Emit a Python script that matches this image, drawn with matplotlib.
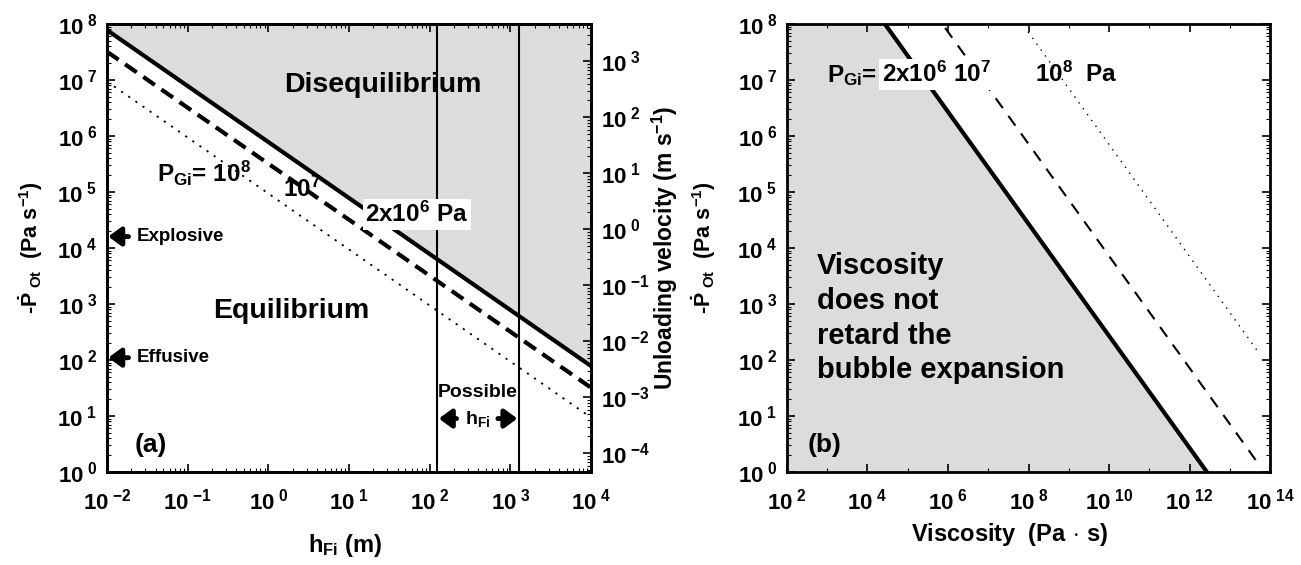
import numpy as np
import matplotlib
matplotlib.use('Agg')
import matplotlib.pyplot as plt
from matplotlib.ticker import FuncFormatter, LogLocator, NullFormatter

plt.rcParams['font.family'] = ['Liberation Sans', 'DejaVu Sans']
plt.rcParams['font.weight'] = 'bold'
plt.rcParams['axes.labelweight'] = 'bold'
plt.rcParams['mathtext.fontset'] = 'custom'
plt.rcParams['mathtext.rm'] = 'Liberation Sans:bold'
plt.rcParams['mathtext.bf'] = 'Liberation Sans:bold'
plt.rcParams['mathtext.it'] = 'Liberation Sans:bold:italic'

# (a) decompression rate vs initial fragmentation depth
h_fi = [1e-2, 1e4]
p_2e6 = [7.8e7, 7.8e1]
p_1e7 = [3.2e7, 3.2e1]
p_1e8 = [9.4e6, 9.4e0]
possible_h = [125, 1270]
explosive_rate = 1.6e4
effusive_rate = 1.1e2
rho_g = 2.16e4  # Pa/s -> m/s

# (b) decompression rate vs viscosity
eta_2e6 = [2.7e4, 2.7e12]
pv_2e6 = [1e8, 1e0]
eta_1e7 = [8.5e5, 4.8e13]
pv_1e7 = [8.5e7, 1.5e0]
eta_1e8 = [9.8e7, 5.6e13]
pv_1e8 = [7.2e7, 1.26e2]

gray = '#dcdcdc'
ylab = r'-$\mathbf{\dot{P}}_{\ \mathbf{Ot}}$  (Pa s$^{\mathbf{-1}}$)'


def pow10(v, pos):
    e = int(round(np.log10(v)))
    return r'$\mathbf{10}^{\ \mathbf{%d}}$' % e


def style(ax, right=True):
    ax.tick_params(which='both', direction='in', top=True, right=right, labelsize=16)
    ax.tick_params(axis='x', pad=12)
    ax.tick_params(axis='y', pad=7)
    ax.tick_params(which='major', length=6, width=1.2)
    ax.tick_params(which='minor', length=3, width=0.8)
    for s in ax.spines.values():
        s.set_linewidth(2)
    ax.yaxis.set_major_formatter(FuncFormatter(pow10))
    ax.xaxis.set_major_formatter(FuncFormatter(pow10))


fig = plt.figure(figsize=(13.01, 5.65), dpi=100)
arrow = dict(arrowstyle='-|>,head_width=0.55,head_length=0.75', lw=3.5, color='k',
             shrinkA=0, shrinkB=0)

# ---- panel (a)
ax1 = fig.add_axes([0.0822, 0.1646, 0.3721, 0.793])
ax1.set_xscale('log')
ax1.set_yscale('log')
ax1.set_xlim(1e-2, 1e4)
ax1.set_ylim(1e0, 1e8)
ax1.fill_between(h_fi, p_2e6, 1e8, color=gray, lw=0, zorder=0)
ax1.plot(h_fi, p_2e6, color='k', lw=3)
ax1.plot(h_fi, p_1e7, color='k', lw=3, dashes=(3.4, 1.9))
ax1.plot(h_fi, p_1e8, color='k', lw=1.3, dashes=(1.2, 3.6))
for h in possible_h:
    ax1.axvline(h, color='k', lw=1.5)
ax1.xaxis.set_major_locator(LogLocator(base=10, numticks=20))
ax1.xaxis.set_minor_locator(LogLocator(base=10, subs=np.arange(2, 10), numticks=50))
ax1.yaxis.set_major_locator(LogLocator(base=10, numticks=20))
ax1.yaxis.set_minor_locator(LogLocator(base=10, subs=np.arange(2, 10), numticks=50))
ax1.xaxis.set_minor_formatter(NullFormatter())
ax1.yaxis.set_minor_formatter(NullFormatter())
style(ax1, right=False)
ax1.set_xlabel(r'h$_{\mathbf{Fi}}$ (m)', fontsize=17)
ax1.xaxis.set_label_coords(0.492, -0.135)
ax1.set_ylabel(ylab, fontsize=15.5, labelpad=9)

ax1.text(26, 8e6, 'Disequilibrium', fontsize=20.5, ha='center', va='center')
ax1.text(1.9, 750, 'Equilibrium', fontsize=20.5, ha='center', va='center')
ax1.text(0.042, 1.5e5, r'P$_{\mathbf{Gi}}$= 10$^{\mathbf{8}}$', fontsize=17.5, va='baseline')
ax1.text(1.5, 8.1e4, r'10$^{\mathbf{7}}$', fontsize=17.5, va='baseline')
ax1.text(16, 2.9e4, r'2x10$^{\mathbf{6}}$ Pa', fontsize=17.5, va='baseline',
         bbox=dict(facecolor='white', edgecolor='none', pad=2))
ax1.annotate('', xy=(0.0104, explosive_rate), xytext=(0.0185, explosive_rate), arrowprops=arrow)
ax1.text(0.0235, explosive_rate, 'Explosive', fontsize=13.5, va='center')
ax1.annotate('', xy=(0.0104, effusive_rate), xytext=(0.0185, effusive_rate), arrowprops=arrow)
ax1.text(0.0235, effusive_rate, 'Effusive', fontsize=13.5, va='center')
ax1.text(np.sqrt(possible_h[0] * possible_h[1]), 26, 'Possible', fontsize=14,
         ha='center', va='center')
ax1.annotate('', xy=(possible_h[0] * 1.04, 9), xytext=(215, 9), arrowprops=arrow)
ax1.annotate('', xy=(possible_h[1] / 1.04, 9), xytext=(700, 9), arrowprops=arrow)
ax1.text(390, 9, r'h$_{\mathbf{Fi}}$', fontsize=14, ha='center', va='center')
ax1.text(0.058, 0.06, '(a)', transform=ax1.transAxes, fontsize=19, va='center')

# velocity axis
ax1b = ax1.twinx()
ax1b.set_yscale('log')
ax1b.set_ylim(1e0 / rho_g, 1e8 / rho_g)
ax1b.yaxis.set_major_locator(LogLocator(base=10, numticks=20))
ax1b.yaxis.set_minor_locator(LogLocator(base=10, subs=np.arange(2, 10), numticks=50))
ax1b.yaxis.set_minor_formatter(NullFormatter())
ax1b.yaxis.set_major_formatter(FuncFormatter(pow10))
ax1b.tick_params(axis='x', which='both', bottom=False, top=False,
                 labelbottom=False, labeltop=False)
ax1b.tick_params(axis='y', which='both', direction='in', labelsize=16, pad=7)
ax1b.tick_params(axis='y', which='major', length=6, width=1.2)
ax1b.tick_params(axis='y', which='minor', length=3, width=0.8)
for s in ax1b.spines.values():
    s.set_linewidth(2)
ax1b.set_ylabel(r'Unloading velocity (m s$^{\mathbf{-1}}$)', fontsize=16.5, labelpad=0)

# ---- panel (b)
ax2 = fig.add_axes([0.6049, 0.1646, 0.3713, 0.793])
ax2.set_xscale('log')
ax2.set_yscale('log')
ax2.set_xlim(1e2, 1e14)
ax2.set_ylim(1e0, 1e8)
ax2.fill_between([1e2] + eta_2e6, 1e0, [pv_2e6[0]] + pv_2e6, color=gray, lw=0, zorder=0)
ax2.plot(eta_2e6, pv_2e6, color='k', lw=3)
ax2.plot(eta_1e7, pv_1e7, color='k', lw=1.5, dashes=(5.8, 4.6))
ax2.plot(eta_1e8, pv_1e8, color='k', lw=1, dashes=(1, 4.2))
ax2.xaxis.set_major_locator(LogLocator(base=100, numticks=20))
ax2.xaxis.set_minor_locator(LogLocator(base=10, subs=[], numticks=50))
ax2.yaxis.set_major_locator(LogLocator(base=10, numticks=20))
ax2.yaxis.set_minor_locator(LogLocator(base=10, subs=np.arange(2, 10), numticks=50))
ax2.xaxis.set_minor_formatter(NullFormatter())
ax2.yaxis.set_minor_formatter(NullFormatter())
style(ax2)
ax2.set_xlabel(r'Viscosity  (Pa$\,\cdot\,$s)', fontsize=17)
ax2.xaxis.set_label_coords(0.462, -0.11)
ax2.set_ylabel(ylab, fontsize=15.5, labelpad=14)

ax2.text(9.8e2, 9.2e6, r'P$_{\mathbf{Gi}}$=', fontsize=17.5, va='baseline')
ax2.text(2.3e4, 9.2e6, r'2x10$^{\mathbf{6}}$ 10$^{\mathbf{7}}$', fontsize=17.5, va='baseline',
         bbox=dict(facecolor='white', edgecolor='none', pad=2))
ax2.text(1.45e8, 9.2e6, r'10$^{\mathbf{8}}$  Pa', fontsize=17.5, va='baseline')
ax2.text(0.062, 0.49, 'Viscosity\ndoes not\nretard the\nbubble expansion',
         transform=ax2.transAxes, fontsize=21, va='top', linespacing=1.3)
ax2.text(0.043, 0.06, '(b)', transform=ax2.transAxes, fontsize=19, va='center')

fig.savefig('out.png', dpi=100)
